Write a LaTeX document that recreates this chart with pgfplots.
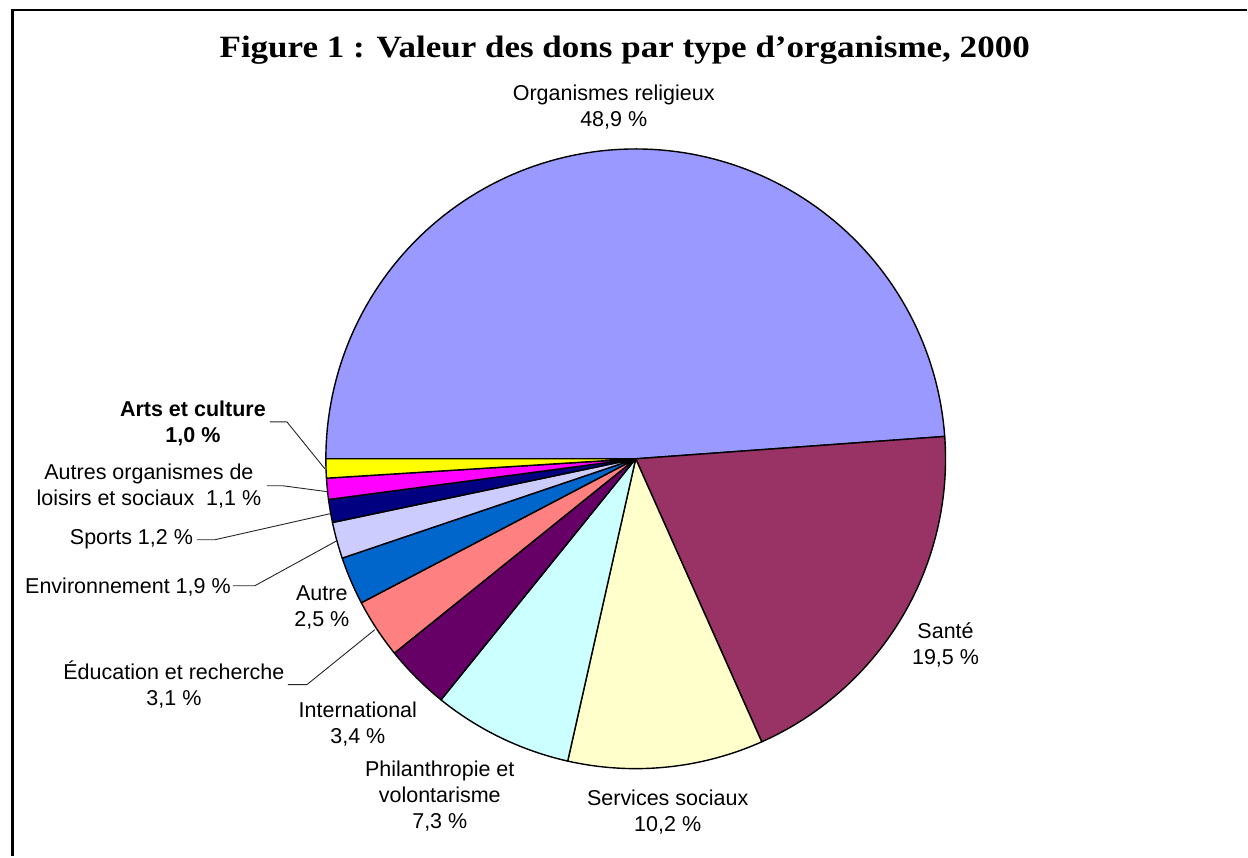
\documentclass[border=0pt]{standalone}
\usepackage{pgfplots}
\usepackage{pgfplotstable}
\pgfplotsset{compat=1.18}
\usepackage{fontspec}
\setmainfont{Liberation Sans}
\newfontfamily\titlefont[FakeStretch=1.13]{Liberation Serif}

\definecolor{religieux}{HTML}{9999FF}
\definecolor{sante}{HTML}{993366}
\definecolor{services}{HTML}{FFFFCC}
\definecolor{philanthropie}{HTML}{CCFFFF}
\definecolor{international}{HTML}{660066}
\definecolor{education}{HTML}{FF8080}
\definecolor{autre}{HTML}{0066CC}
\definecolor{environnement}{HTML}{CCCCFF}
\definecolor{sports}{HTML}{000080}
\definecolor{autresorg}{HTML}{FF00FF}
\definecolor{arts}{HTML}{FFFF00}

% Valeur des dons par type d'organisme (%), dans l'ordre du graphique
\pgfplotstableread{
value colour
48.9 religieux
19.5 sante
10.2 services
7.3 philanthropie
3.4 international
3.1 education
2.5 autre
1.9 environnement
1.2 sports
1.1 autresorg
1.0 arts
}\dons

\newcommand\lbl{\fontsize{10.75}{13}\selectfont}

\begin{document}
\begin{tikzpicture}
\begin{axis}[
  width=624pt, height=428.5pt, scale only axis,
  xmin=0, xmax=1248, ymin=0, ymax=857, y dir=reverse,
  axis lines=none, clip=false,
]
\path (axis cs:0,0) rectangle (axis cs:1248,857);
% frame
\draw[line width=1.1pt] (axis cs:12.5,856.5) -- (axis cs:12.5,10) -- (axis cs:1247.5,10);

% total
\def\total{0}
\pgfplotsforeachungrouped \i in {0,...,10}{%
  \pgfplotstablegetelem{\i}{value}\of\dons
  \pgfmathsetmacro\total{\total+\pgfplotsretval}%
}
\def\curang{180}
\pgfplotsforeachungrouped \i in {0,...,10}{%
  \pgfplotstablegetelem{\i}{value}\of\dons \let\sliceval\pgfplotsretval
  \pgfplotstablegetelem{\i}{colour}\of\dons \let\slicecol\pgfplotsretval
  \pgfmathsetmacro\endang{\curang-\sliceval/\total*360}%
  \edef\tmp{\noexpand\addplot[fill=\slicecol, draw=black, line width=0.7pt, line join=round, domain=\endang:\curang, samples=120] ({636+310*cos(x)},{459-310*sin(x)}) -- (axis cs:636,459) -- cycle;}%
  \tmp
  \let\curang\endang
}

% title
\node[anchor=base, font=\titlefont\bfseries\fontsize{15.5}{18}\selectfont] at (axis cs:625,58) {Figure 1 : Valeur des dons par type d’organisme, 2000};

% labels
\node[align=center, font=\lbl] at (axis cs:614,107) {Organismes religieux\\48,9 \%};
\node[align=center, font=\lbl] at (axis cs:946,645) {Santé\\19,5 \%};
\node[align=center, font=\lbl] at (axis cs:668,812) {Services sociaux\\10,2 \%};
\node[align=center, font=\lbl] at (axis cs:440,796) {Philanthropie et\\volontarisme\\7,3 \%};
\node[align=center, font=\lbl] at (axis cs:358,724) {International\\3,4 \%};
\node[align=center, font=\lbl] at (axis cs:174,685) {Éducation et recherche\\3,1 \%};
\node[align=center, font=\lbl] at (axis cs:322,608) {Autre\\2,5 \%};
\node[align=center, font=\lbl] at (axis cs:128,587) {Environnement 1,9 \%};
\node[align=center, font=\lbl] at (axis cs:131.5,539) {Sports 1,2 \%};
\node[align=center, font=\lbl] at (axis cs:149,486) {Autres organismes de\\loisirs et sociaux\ \ 1,1 \%};
\node[align=center, font=\lbl\bfseries] at (axis cs:193,424) {Arts et culture\\1,0 \%};

% leader lines
\draw[line width=0.45pt, black!85] (axis cs:270,422) -- (axis cs:287,422) -- (axis cs:325,469);
\draw[line width=0.45pt, black!85] (axis cs:267,486) -- (axis cs:283,486) -- (axis cs:328,492);
\draw[line width=0.45pt, black!85] (axis cs:197,540) -- (axis cs:215,540) -- (axis cs:330,514);
\draw[line width=0.45pt, black!85] (axis cs:233,586) -- (axis cs:255,586) -- (axis cs:337,541);
\draw[line width=0.45pt, black!85] (axis cs:288,685) -- (axis cs:307,685) -- (axis cs:375,630);
\end{axis}
\end{tikzpicture}
\end{document}
